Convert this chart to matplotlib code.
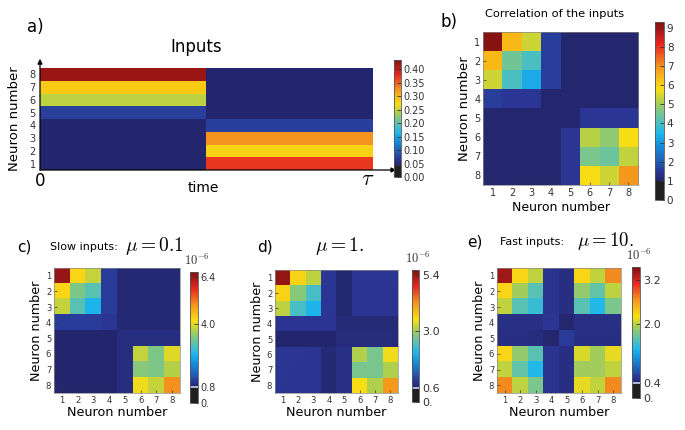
import numpy as np
import matplotlib
matplotlib.use('Agg')
import matplotlib.pyplot as plt
from matplotlib.colors import ListedColormap, LinearSegmentedColormap, Normalize

plt.rcParams['mathtext.fontset'] = 'cm'
plt.rcParams['font.family'] = ['DejaVu Sans']

# ---------------- data ----------------
neurons = [1, 2, 3, 4, 5, 6, 7, 8]

# panel a: input strength per neuron (rows 1..8), first and second half of time
inputs_first = [0.042, 0.042, 0.042, 0.042, 0.073, 0.245, 0.285, 0.42]
inputs_second = [0.37, 0.28, 0.325, 0.073, 0.042, 0.042, 0.042, 0.042]

corr_inputs = [
    [9.2, 6.4, 5.4, 1.6, 1.05, 1.05, 1.05, 1.05],
    [6.4, 4.5, 4.0, 1.6, 1.05, 1.05, 1.05, 1.05],
    [5.4, 4.0, 3.3, 1.6, 1.05, 1.05, 1.05, 1.05],
    [1.6, 1.5, 1.5, 1.05, 1.05, 1.05, 1.05, 1.05],
    [1.05, 1.05, 1.05, 1.05, 1.05, 1.5, 1.5, 1.5],
    [1.05, 1.05, 1.05, 1.05, 1.5, 5.2, 4.8, 5.8],
    [1.05, 1.05, 1.05, 1.05, 1.5, 4.6, 4.4, 5.3],
    [1.05, 1.05, 1.05, 1.05, 1.5, 5.8, 5.4, 6.9],
]

corr_slow = [
    [6.45, 4.25, 3.8, 1.15, 0.88, 0.88, 0.88, 0.88],
    [4.25, 3.3, 3.0, 1.15, 0.88, 0.88, 0.88, 0.88],
    [3.8, 3.0, 2.45, 1.15, 0.88, 0.88, 0.88, 0.88],
    [1.15, 1.15, 1.15, 1.1, 0.88, 0.88, 0.88, 0.88],
    [0.82, 0.82, 0.82, 0.82, 0.95, 0.95, 0.95, 0.95],
    [0.82, 0.82, 0.82, 0.82, 0.95, 3.8, 3.3, 4.0],
    [0.82, 0.82, 0.82, 0.82, 0.95, 3.4, 3.3, 3.7],
    [0.82, 0.82, 0.82, 0.82, 0.95, 4.1, 3.8, 5.0],
]

corr_mid = [
    [5.45, 3.6, 3.15, 0.9, 0.65, 0.9, 0.9, 0.9],
    [3.6, 2.85, 2.4, 0.9, 0.65, 0.88, 0.88, 0.88],
    [3.15, 2.4, 2.07, 0.9, 0.65, 0.88, 0.88, 0.88],
    [0.88, 0.88, 0.88, 0.88, 0.7, 0.7, 0.7, 0.7],
    [0.62, 0.62, 0.62, 0.62, 0.72, 0.72, 0.72, 0.72],
    [0.9, 0.9, 0.88, 0.68, 0.8, 3.1, 2.75, 3.45],
    [0.9, 0.88, 0.88, 0.68, 0.8, 2.75, 2.75, 3.1],
    [0.9, 0.88, 0.88, 0.68, 0.8, 3.5, 3.1, 4.15],
]

corr_fast = [
    [3.4, 2.27, 2.02, 0.55, 0.5, 2.27, 2.02, 2.7],
    [2.27, 1.9, 1.6, 0.55, 0.5, 1.85, 1.65, 2.0],
    [2.02, 1.6, 1.45, 0.55, 0.5, 1.6, 1.35, 1.75],
    [0.52, 0.52, 0.52, 0.58, 0.42, 0.52, 0.52, 0.52],
    [0.5, 0.5, 0.48, 0.42, 0.6, 0.5, 0.5, 0.5],
    [2.27, 1.85, 1.6, 0.55, 0.5, 2.1, 1.9, 2.15],
    [2.02, 1.65, 1.35, 0.55, 0.5, 1.9, 1.9, 2.02],
    [2.7, 2.0, 1.75, 0.55, 0.5, 2.15, 2.02, 2.7],
]

# colour scale limits (threshold below which black, top of scale)
a_thr, a_top = 0.04, 0.434
b_thr, b_top = 1.0, 9.3
c_thr, c_top = 0.8, 6.65
d_thr, d_top = 0.6, 5.6
e_thr, e_top = 0.4, 3.55

a_ticks = [0.0, 0.05, 0.10, 0.15, 0.20, 0.25, 0.30, 0.35, 0.40]
a_ticklabels = ['0.00', '0.05', '0.10', '0.15', '0.20', '0.25', '0.30', '0.35', '0.40']
b_ticks = [0, 1, 2, 3, 4, 5, 6, 7, 8, 9]
c_ticks, c_ticklabels = [0, 0.8, 4.0, 6.4], ['0.', '0.8', '4.0', '6.4']
d_ticks, d_ticklabels = [0, 0.6, 3.0, 5.4], ['0.', '0.6', '3.0', '5.4']
e_ticks, e_ticklabels = [0, 0.4, 2.0, 3.2], ['0.', '0.4', '2.0', '3.2']

# print-like (muted) jet palette
jet_like = LinearSegmentedColormap.from_list('jet_print', [
    (0.0, (0.14, 0.15, 0.42)),
    (0.11, (0.17, 0.21, 0.58)),
    (0.2, (0.14, 0.33, 0.68)),
    (0.3, (0.08, 0.55, 0.85)),
    (0.375, (0.12, 0.72, 0.93)),
    (0.45, (0.35, 0.76, 0.70)),
    (0.5, (0.50, 0.78, 0.52)),
    (0.56, (0.72, 0.82, 0.27)),
    (0.625, (0.98, 0.87, 0.08)),
    (0.7, (0.97, 0.70, 0.10)),
    (0.75, (0.96, 0.58, 0.12)),
    (0.875, (0.91, 0.15, 0.13)),
    (1.0, (0.50, 0.07, 0.07)),
])


# ---------------- helpers ----------------
def make_cmap(thr, top, n=512):
    v = np.linspace(0, top, n)
    knee = 0.2 * top
    p = np.where(v < knee, (v - thr) / (knee - thr) * 0.2, v / top)
    cols = jet_like(np.clip(p, 0, 1))
    cols[v < thr, :3] = [0.13, 0.12, 0.12]
    return ListedColormap(cols)


W, H = 685, 430
fig = plt.figure(figsize=(W / 100, H / 100), dpi=100)


def box(x0, y0, x1, y1):
    return [x0 / W, 1 - y1 / H, (x1 - x0) / W, (y1 - y0) / H]


def ftext(x, y, s, **kw):
    fig.text(x / W, 1 - y / H, s, **kw)


def colorbar(im, rect, ticks, labels, thr=None, label_size=7, offset=False):
    cax = fig.add_axes(box(*rect))
    cb = fig.colorbar(im, cax=cax, ticks=ticks)
    cb.ax.set_yticklabels(labels)
    cb.outline.set_linewidth(0.6)
    cb.outline.set_edgecolor('#555555')
    cax.tick_params(direction='in', length=3, width=0.6, labelsize=label_size,
                    pad=2, colors='#333333')
    if thr is not None:
        cax.axhline(thr, color='#c8d2f0', lw=1.2)
    if offset:
        cax.text(0.9, 1.03, r'$10^{-6}$', transform=cax.transAxes,
                 ha='center', va='bottom', fontsize=9, color='#333333')
    return cb


def heatmap(M, rect, thr, top):
    ax = fig.add_axes(box(*rect))
    im = ax.imshow(np.array(M), cmap=make_cmap(thr, top), norm=Normalize(0, top),
                   interpolation='nearest', aspect='auto',
                   extent=[0.5, 8.5, 8.5, 0.5])
    ax.set_xticks(neurons)
    ax.set_yticks(neurons)
    ax.tick_params(direction='in', length=2, width=0.5, labelsize=6, pad=2,
                   colors='#333333')
    for s in ax.spines.values():
        s.set_linewidth(0.5)
        s.set_edgecolor('#888888')
    return ax, im


# ---------------- panel a ----------------
axa = fig.add_axes(box(40, 68, 373, 170))
data_a = np.column_stack([inputs_first, inputs_second])
ima = axa.imshow(data_a, cmap=make_cmap(a_thr, a_top), norm=Normalize(0, a_top),
                 origin='lower', extent=[0, 1, 0.5, 8.5], aspect='auto',
                 interpolation='nearest')
axa.set_xticks([])
axa.set_yticks(neurons)
axa.tick_params(axis='y', length=0, labelsize=7, pad=3, colors='#333333')
for s in axa.spines.values():
    s.set_visible(False)
axa.annotate('', xy=(0, 1.09), xytext=(0, 0), xycoords='axes fraction',
             arrowprops=dict(arrowstyle='-|>', lw=0.9, color='black',
                             mutation_scale=7, shrinkA=0, shrinkB=0))
axa.annotate('', xy=(1.07, 0), xytext=(0, 0), xycoords='axes fraction',
             arrowprops=dict(arrowstyle='-|>', lw=0.9, color='black',
                             mutation_scale=7, shrinkA=0, shrinkB=0))
axa.set_ylabel('Neuron number', fontsize=9.5, labelpad=6)
ftext(40, 181, '0', ha='center', va='center', fontsize=12)
ftext(203, 188, 'time', ha='center', va='center', fontsize=10)
ftext(368, 179, r'$\tau$', ha='center', va='center', fontsize=16)
ftext(196, 47, 'Inputs', ha='center', va='center', fontsize=12)
ftext(27, 27, 'a)', ha='left', va='center', fontsize=12)
colorbar(ima, (394, 60, 401, 177), a_ticks, a_ticklabels, label_size=7)

# ---------------- panel b ----------------
axb, imb = heatmap(corr_inputs, (483, 32, 638, 185), b_thr, b_top)
axb.tick_params(labelsize=7)
axb.set_xlabel('Neuron number', fontsize=9, labelpad=2)
axb.set_ylabel('Neuron number', fontsize=9.5, labelpad=2)
ftext(555, 14, 'Correlation of the inputs', ha='center', va='center', fontsize=8.2)
ftext(440, 22, 'b)', ha='left', va='center', fontsize=12)
colorbar(imb, (655, 22, 664, 200), b_ticks, [str(t) for t in b_ticks], label_size=7.5)

# ---------------- panel c ----------------
axc, imc = heatmap(corr_slow, (54, 268, 180, 393), c_thr, c_top)
axc.set_xlabel('Neuron number', fontsize=9.2, labelpad=1)
axc.set_ylabel('Neuron number', fontsize=9.2, labelpad=2)
ftext(17, 247, 'c)', ha='left', va='center', fontsize=11)
ftext(50, 247, 'Slow inputs:', ha='left', va='center', fontsize=8)
ftext(125, 246, r'$\mu = 0.1$', ha='left', va='center', fontsize=14)
colorbar(imc, (190, 272, 198, 403), c_ticks, c_ticklabels, thr=c_thr,
         label_size=7, offset=True)

# ---------------- panel d ----------------
axd, imd = heatmap(corr_mid, (275, 270, 398, 393), d_thr, d_top)
axd.set_xlabel('Neuron number', fontsize=9.2, labelpad=1)
axd.set_ylabel('Neuron number', fontsize=9.2, labelpad=2)
ftext(257, 247, 'd)', ha='left', va='center', fontsize=11)
ftext(340, 246, r'$\mu = 1.$', ha='center', va='center', fontsize=14)
colorbar(imd, (412, 270, 419, 402), d_ticks, d_ticklabels, thr=d_thr,
         label_size=8, offset=True)

# ---------------- panel e ----------------
axe, ime = heatmap(corr_fast, (497, 268, 621, 393), e_thr, e_top)
axe.set_xlabel('Neuron number', fontsize=9.2, labelpad=1)
axe.set_ylabel('Neuron number', fontsize=9.2, labelpad=2)
ftext(467, 242, 'e)', ha='left', va='center', fontsize=11)
ftext(500, 242, 'Fast inputs:', ha='left', va='center', fontsize=8)
ftext(577, 241, r'$\mu = 10.$', ha='left', va='center', fontsize=13.5)
colorbar(ime, (632, 267, 640, 398), e_ticks, e_ticklabels, thr=e_thr,
         label_size=8, offset=True)

fig.savefig('out.png', dpi=100)
